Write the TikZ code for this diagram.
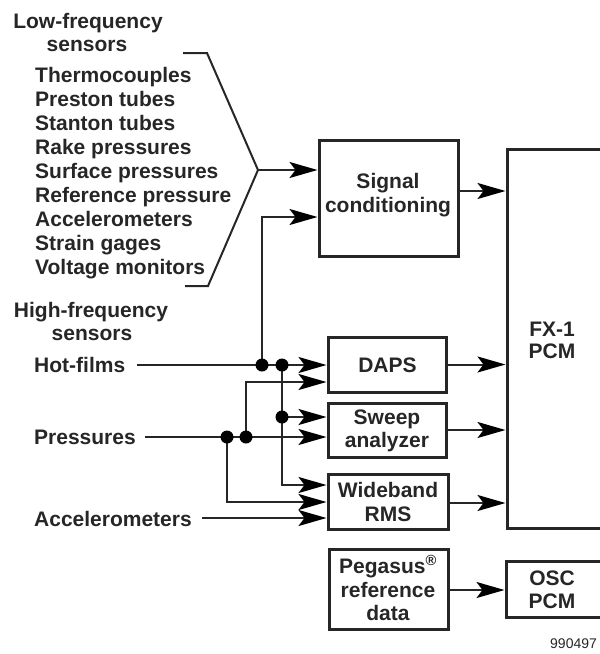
\documentclass[tikz,border=0pt]{standalone}
\usepackage{fontspec}
\setmainfont{Liberation Sans}
\usetikzlibrary{arrows.meta,calc}
\begin{document}
\begin{tikzpicture}[x=1pt,y=-1pt,
  t/.style={font=\fontsize{21}{24}\selectfont\bfseries, inner sep=0pt, anchor=base, text=black!85},
  tl/.style={t, anchor=base west},
  box/.style={draw=black!85, line width=3pt, inner sep=0pt},
  conn/.style={line width=2pt, draw=black!85},
  arr/.style={conn, -{Stealth[length=28pt,width=16pt,inset=6pt,black]}},
  dot/.style={circle, fill=black, inner sep=0pt, minimum size=13pt}]
\useasboundingbox (0,0) rectangle (600,654);

% boxes
\node[box, minimum width=139pt, minimum height=116pt] (sc) at (388.5,198) {};
\node[box, minimum width=95pt, minimum height=379pt] (fx) at (554.5,338.5) {};
\node[box, minimum width=118pt, minimum height=55pt] (daps) at (387,364.5) {};
\node[box, minimum width=118pt, minimum height=54pt] (sw) at (387,430) {};
\node[box, minimum width=120pt, minimum height=55pt] (wb) at (388,501.5) {};
\node[box, minimum width=119pt, minimum height=80pt] (peg) at (388.5,589) {};
\node[box, minimum width=96pt, minimum height=56pt] (osc) at (554,589) {};

% texts
\node[t] (lf1) at (88,28) {Low-frequency};
\node[t] (lf2) at (87,51) {sensors};
\foreach \txt [count=\i] in {Thermocouples, Preston tubes, Stanton tubes, Rake pressures, Surface pressures, Reference pressure, Accelerometers, Strain gages, Voltage monitors}
  \node[tl] (l\i) at (35,{82+24*(\i-1)}) {\txt};
\node[t] (sc1) at (388,188) {Signal};
\node[t] (sc2) at (388,212) {conditioning};
\node[t] (hf1) at (91,317) {High-frequency};
\node[t] (hf2) at (92,340) {sensors};
\node[tl] (hot) at (34,372) {Hot-films};
\node[tl] (pres) at (34,444) {Pressures};
\node[tl] (acc) at (34,526) {Accelerometers};
\node[t] (dapst) at (387.5,372) {DAPS};
\node[t] (sw1) at (387,424) {Sweep};
\node[t] (sw2) at (387,447) {analyzer};
\node[t] (wb1) at (388,497) {Wideband};
\node[t] (wb2) at (388,521) {RMS};
\node[t] (fx1) at (552,336) {FX-1};
\node[t] (fx2) at (552,358) {PCM};
\node[t] (pg1) at (388,573) {Pegasus\textsuperscript{\textregistered}};
\node[t] (pg2) at (388,597) {reference};
\node[t] (pg3) at (388,620) {data};
\node[t] (os1) at (552,585) {OSC};
\node[t] (os2) at (552,608) {PCM};
\node[font=\fontsize{14}{16}\selectfont, text=black!85, inner sep=0pt, anchor=base west] (num) at (550,648) {990497};

% bracket
\coordinate (apex) at (258,170);
\draw[conn, line join=miter] (183,53) -- (207,53) -- (apex) -- (208,286) -- (185,286);
\draw[arr] (apex) -- (apex -| sc.west);

% start points and junctions
\coordinate (hfs) at (137,365);
\coordinate (prs) at (145,437);
\coordinate (acs) at (202,518);
\coordinate (j1) at (262,365);
\coordinate (j2) at (282,365);
\coordinate (j3) at (282,417);
\coordinate (p1) at (227,437);
\coordinate (p2) at (246,437);

% high-frequency connectors
\draw[arr] (hfs) -- (hfs -| daps.west);
\draw[arr] (j1) |- ([yshift=-19pt]sc.west);
\draw[arr] (j2) |- ([yshift=16.5pt]wb.west);
\draw[arr] (j3) -- (j3 -| sw.west);
\draw[arr] (prs) -- (prs -| sw.west);
\draw[arr] (p2) |- ([yshift=-17.5pt]daps.west);
\draw[arr] (p1) |- ([yshift=-0.5pt]wb.west);
\draw[arr] (acs) -- (acs -| wb.west);
\foreach \j in {j1,j2,j3,p1,p2} \node[dot] (d\j) at (\j) {};

% outputs
\draw[arr] ([yshift=7pt]sc.east) -- ([yshift=7pt]sc.east -| fx.west);
\draw[arr] (daps.east) -- (daps.east -| fx.west);
\draw[arr] (sw.east) -- (sw.east -| fx.west);
\draw[arr] ([yshift=-1.5pt]wb.east) -- ([yshift=-1.5pt]wb.east -| fx.west);
\draw[arr] ([yshift=-1pt]peg.east) -- ([yshift=-1pt]peg.east -| osc.west);
\end{tikzpicture}
\end{document}
